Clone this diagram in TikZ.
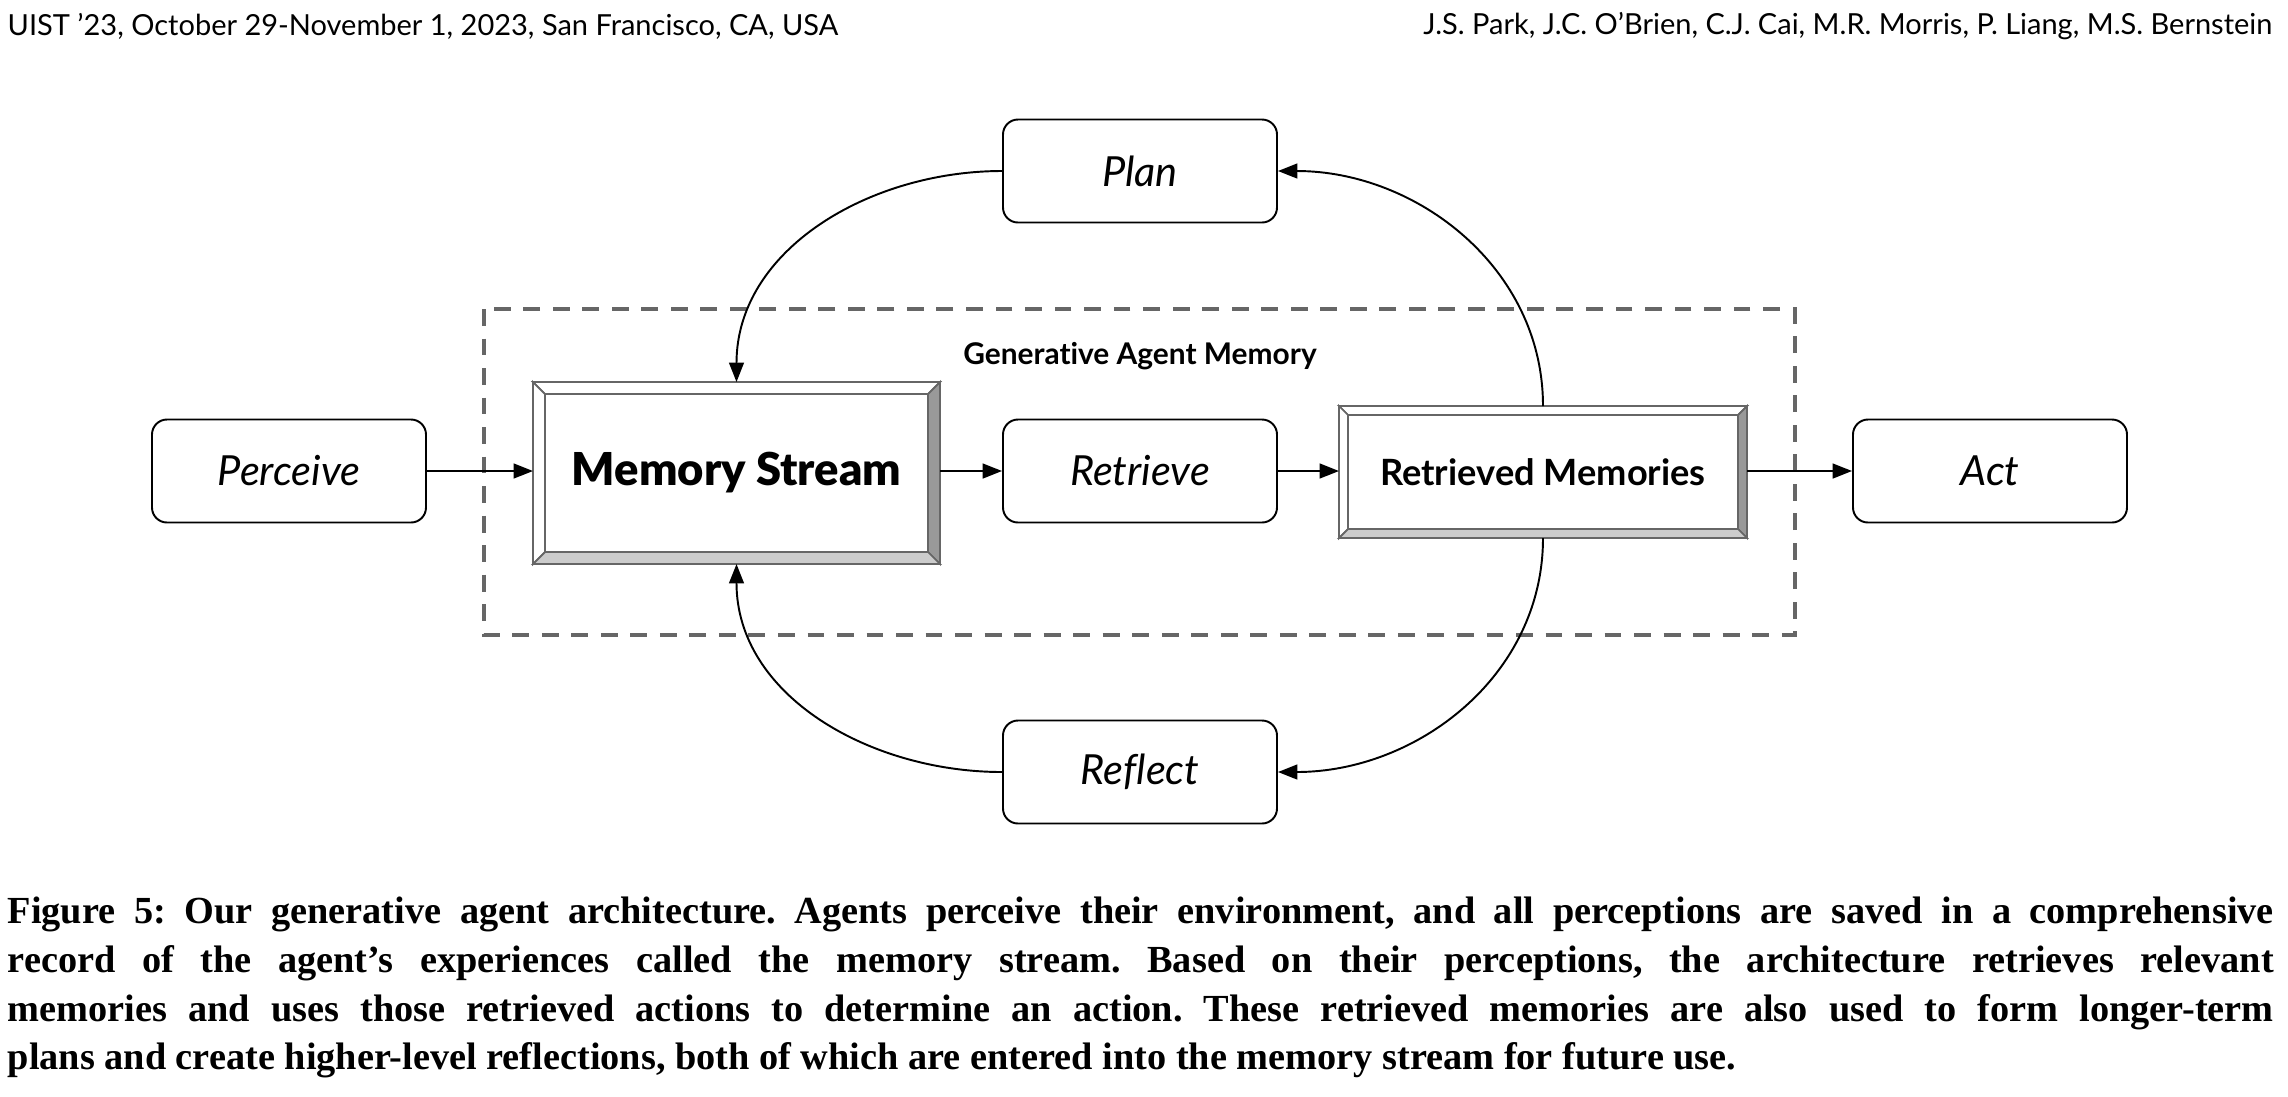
\documentclass[tikz,border=0pt]{standalone}
\usepackage{fontspec}
\setmainfont{Liberation Serif}
\setsansfont{Lato}[Ligatures = CommonOff]
\newfontfamily\blackfont{Lato Black}[Ligatures = CommonOff]
\usetikzlibrary{arrows.meta,calc}

\definecolor{edgegray}{HTML}{666666}
\definecolor{darkbevel}{HTML}{999999}
\definecolor{lightbevel}{HTML}{CCCCCC}

% marco biselado alrededor de un nodo: #1 nombre, #2 ancho del bisel
\newcommand\bevelbox[2]{%
	\filldraw[white, draw = edgegray, line width = .5pt] (#1.north west) -- (#1.north east) -- ($(#1.north east) + (-#2,-#2)$) -- ($(#1.north west) + (#2,-#2)$) -- cycle;
	\filldraw[white, draw = edgegray, line width = .5pt] (#1.north west) -- (#1.south west) -- ($(#1.south west) + (#2,#2)$) -- ($(#1.north west) + (#2,-#2)$) -- cycle;
	\filldraw[darkbevel, draw = edgegray, line width = .5pt] (#1.north east) -- (#1.south east) -- ($(#1.south east) + (-#2,#2)$) -- ($(#1.north east) + (-#2,-#2)$) -- cycle;
	\filldraw[lightbevel, draw = edgegray, line width = .5pt] (#1.south west) -- (#1.south east) -- ($(#1.south east) + (-#2,#2)$) -- ($(#1.south west) + (#2,#2)$) -- cycle;
	\draw[edgegray, line width = .6pt] (#1.north west) rectangle (#1.south east);
}

\begin{document}
\begin{tikzpicture}[
process/.style = {draw, rounded corners = .15cm, line width = .55pt, minimum width = 2.74cm, minimum height = 1.03cm, font = \sffamily\itshape\fontsize{11.8}{14}\selectfont},
store/.style = {fill = white, inner sep = 0pt, outer sep = 0pt},
flow/.style = {-{Triangle[length = 5.5pt, width = 4.2pt]}, line width = .55pt},
header/.style = {inner sep = 0pt, font = \sffamily\fontsize{8.25}{10}\selectfont}
]
\useasboundingbox (0,0) rectangle (22.88,-10.96);

% cabecera
\node[header, anchor = west] (venue) at (0.07,-0.26) {UIST ’23, October 29-November 1, 2023, San Francisco, CA, USA};
\node[header, anchor = east] (authors) at (22.73,-0.26) {J.S. Park, J.C. O’Brien, C.J. Cai, M.R. Morris, P. Liang, M.S. Bernstein};

% recuadro de la memoria
\draw[edgegray, line width = 1.15pt, dash pattern = on 4.8pt off 3.6pt] (4.84,-3.09) rectangle (17.95,-6.35);
\node[font = \sffamily\bfseries\fontsize{8.5}{10}\selectfont] (memtitle) at (11.40,-3.56) {Generative Agent Memory};

% nodos
\node[process] (perceive) at (2.89,-4.71) {Perceive};
\node[store, minimum width = 4.07cm, minimum height = 1.82cm, font = \blackfont\fontsize{12.9}{15}\selectfont] (stream) at (7.365,-4.73) {Memory Stream};
\node[process] (retrieve) at (11.40,-4.71) {Retrieve};
\node[store, minimum width = 4.08cm, minimum height = 1.32cm, font = \sffamily\bfseries\fontsize{10.3}{12}\selectfont] (retrieved) at (15.43,-4.72) {Retrieved Memories};
\node[process] (act) at (19.90,-4.71) {Act};
\node[process] (plan) at (11.40,-1.71) {Plan};
\node[process] (reflect) at (11.40,-7.72) {Reflect};
\bevelbox{stream}{.12}
\bevelbox{retrieved}{.09}

% flechas
\draw[flow] (perceive.east) -- (perceive.east -| stream.west);
\draw[flow] (stream.east |- retrieve.west) -- (retrieve.west);
\draw[flow] (retrieve.east) -- (retrieve.east -| retrieved.west);
\draw[flow] (retrieved.east |- act.west) -- (act.west);
\draw[flow] (plan.west) to[out = 180, in = 90] (stream.north);
\draw[flow] (retrieved.north) to[out = 90, in = 0] (plan.east);
\draw[flow] (retrieved.south) to[out = -90, in = 0] (reflect.east);
\draw[flow] (reflect.west) to[out = 180, in = -90] (stream.south);

% pie de figura
\node[anchor = base west, inner sep = 0pt, text width = 22.66cm, align = justify, font = \bfseries\fontsize{10.9}{13.94}\selectfont\frenchspacing] (caption) at (0.07,-9.23) {Figure 5: Our generative agent architecture. Agents perceive their environment, and all perceptions are saved in a comprehensive\linebreak record of the agent’s experiences called the memory stream. Based on their perceptions, the architecture retrieves relevant\linebreak memories and uses those retrieved actions to determine an action. These retrieved memories are also used to form longer-term\linebreak plans and create higher-level reflections, both of which are entered into the memory stream for future use.};
\end{tikzpicture}
\end{document}
